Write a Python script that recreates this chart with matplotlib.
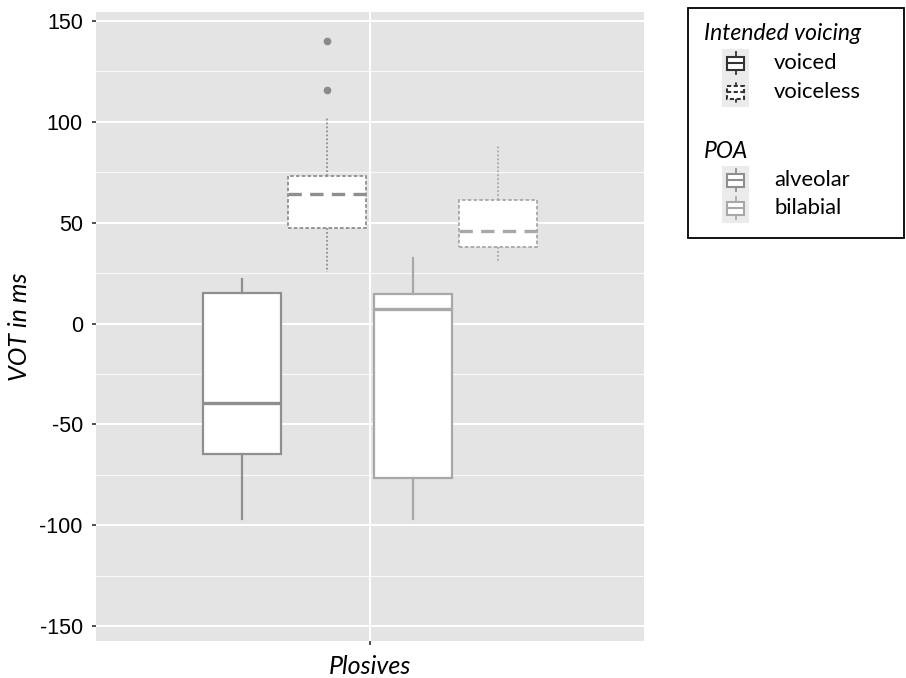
import matplotlib
matplotlib.use("Agg")
import matplotlib.pyplot as plt
from matplotlib.patches import Rectangle

# ---- data ----
category = "Plosives"
groups = ["voiced alveolar", "voiceless alveolar", "voiced bilabial", "voiceless bilabial"]
voicing = ["voiced", "voiceless", "voiced", "voiceless"]
poa = ["alveolar", "alveolar", "bilabial", "bilabial"]
whisker_low = [-97.1, 25.4, -97.1, 31.0]
q1 = [-64.7, 47.2, -76.8, 38.1]
median = [-39.3, 64.2, 7.0, 45.9]
q3 = [15.0, 73.1, 14.6, 61.2]
whisker_high = [21.9, 101.7, 32.3, 88.0]
outliers = [[], [140.1, 115.9], [], []]
y_ticks = [-150, -100, -50, 0, 50, 100, 150]

poa_colors = {"alveolar": "#8f8f8f", "bilabial": "#a8a8a8"}

W, H = 906, 678
AX_L, AX_R, AX_T, AX_B = 96, 644, 12, 641
fig = plt.figure(figsize=(W / 100, H / 100), dpi=100)
ax = fig.add_axes([AX_L / W, 1 - AX_B / H, (AX_R - AX_L) / W, (AX_B - AX_T) / H])
ax.set_facecolor("#e4e4e4")
for s in ax.spines.values():
    s.set_visible(False)

slot = 0.75 / 4
positions = [1 - 0.375 + slot * (i + 0.5) for i in range(4)]
box_w = 0.171

stats = []
for i in range(4):
    stats.append(dict(med=median[i], q1=q1[i], q3=q3[i], whislo=whisker_low[i],
                      whishi=whisker_high[i], fliers=outliers[i], label=groups[i]))

for i in range(4):
    col = poa_colors[poa[i]]
    if voicing[i] == "voiced":
        ls_box, ls_wh, ls_med, lw_box = "-", "-", "-", 1.6
    else:
        ls_box, ls_wh, ls_med, lw_box = (0, (2, 1.2)), (0, (1, 1.2)), (0, (4, 2.5)), 1.3
    ax.bxp([stats[i]], positions=[positions[i]], widths=box_w, showcaps=False,
           patch_artist=True,
           boxprops=dict(facecolor="white", edgecolor=col, linewidth=lw_box, linestyle=ls_box),
           whiskerprops=dict(color=col, linewidth=lw_box, linestyle=ls_wh),
           medianprops=dict(color=col, linewidth=2.4, linestyle=ls_med),
           flierprops=dict(marker="o", markersize=4.5, markerfacecolor="#8a8a8a",
                           markeredgecolor="#8a8a8a"),
           zorder=3)

ax.set_xlim(0.4, 1.6)
ax.set_ylim(-157.4, 154.5)
ax.set_xticks([1])
ax.set_xticklabels([""])
ax.set_yticks(y_ticks)
ax.set_yticklabels([str(t) for t in y_ticks], fontfamily="Liberation Sans", fontsize=15.5)
ax.set_yticks([-125, -75, -25, 25, 75, 125], minor=True)
ax.grid(True, which="major", color="white", linewidth=1.4, zorder=0)
ax.grid(True, which="minor", axis="y", color="white", linewidth=0.8, alpha=0.8, zorder=0)
ax.set_axisbelow(True)
ax.tick_params(axis="both", which="major", length=3, color="#333333", width=1.2, pad=6.5)
ax.tick_params(axis="y", which="minor", length=0)
ax.set_xlabel(category, fontfamily="Lato", fontstyle="italic", fontsize=18)
ax.set_ylabel("VOT in ms", fontfamily="Lato", fontstyle="italic", fontsize=18)
ax.xaxis.set_label_coords(0.5, -(667 - AX_B) / (AX_B - AX_T))
ax.xaxis.label.set_va("center")
ax.yaxis.set_label_coords(-(96 - 20) / (AX_R - AX_L), 0.5)
ax.yaxis.label.set_va("center")
ax.yaxis.label.set_ha("center")

# ---- legend drawn in pixel coordinates ----
lg = fig.add_axes([0, 0, 1, 1], zorder=5)
lg.set_xlim(0, W)
lg.set_ylim(H, 0)
lg.axis("off")
lg.add_patch(Rectangle((687.5, 7.5), 216, 230.5, fill=False, edgecolor="black", linewidth=1.3))
lg.text(704, 34, "Intended voicing", fontfamily="Lato", fontstyle="italic", fontsize=16.5,
        va="center", ha="left")
lg.text(704, 152, "POA", fontfamily="Lato", fontstyle="italic", fontsize=16.5,
        va="center", ha="left")


def key(yc, col, dashed):
    lg.add_patch(Rectangle((722, yc - 14.5), 27, 29, facecolor="#ebebeb", edgecolor="none"))
    ls = (0, (2, 1.2)) if dashed else "-"
    lg.add_patch(Rectangle((727, yc - 6.5), 17, 13, facecolor="white", edgecolor=col,
                           linewidth=1.5, linestyle=ls))
    lg.plot([727, 744], [yc, yc], color=col, linewidth=1.5, linestyle=ls)
    lg.plot([735.5, 735.5], [yc - 6.5, yc - 11], color=col, linewidth=1.3, linestyle=ls)
    lg.plot([735.5, 735.5], [yc + 6.5, yc + 11], color=col, linewidth=1.3, linestyle=ls)


legend_rows = [(63, "voiced", "#333333", False), (92, "voiceless", "#333333", True),
               (180, "alveolar", poa_colors["alveolar"], False),
               (208, "bilabial", poa_colors["bilabial"], False)]
for yc, lab, col, dashed in legend_rows:
    key(yc, col, dashed)
    lg.text(774, yc, lab, fontfamily="Lato", fontsize=15.8, va="center", ha="left")

fig.savefig("out.png", dpi=100, facecolor="white")
